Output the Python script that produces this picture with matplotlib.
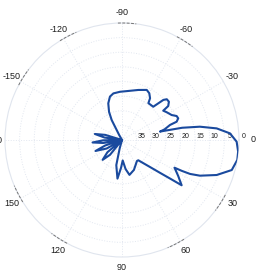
import numpy as np
import matplotlib
matplotlib.use("Agg")
import matplotlib.pyplot as plt

# antenna pattern, angle in degrees (clockwise from east), gain in dB (0 = max)
angles_deg = [-176, -172, -167.5, -163, -158, -122, -119.5, -118, -117.3, -114.7,
              -110.5, -105.5, -100.5, -92.4, -82.7, -71.9, -63.7, -59.7, -56.1, -54.4,
              -46.8, -44.1, -42.3, -39.2, -36.3, -35.4, -31.8, -26.7, -23.7, -21.1,
              -18.5, -17.4, -14, -12.5, -11.5, -9.7, -7.0, -3.5, 0.85, 5.7,
              9.8, 15.3, 20.3, 24.6, 26.5, 27.3, 27.8, 32.6, 37.2, 38.6,
              40.8, 44.3, 51.2, 54.5, 60, 68.2, 77.9, 83, 88, 92,
              96.7, 102.8, 105.5, 108, 122, 129, 134.3, 140, 146, 151,
              157.5, 162, 166.5, 171, 175.2, 179]
gain_db = [-40, -34, -30.5, -34, -40, -40, -38, -36, -32.3, -29.4,
           -26.6, -24.6, -23.8, -23.5, -23.1, -22.0, -20.9, -21.5, -22.8, -24.5,
           -24.4, -20.3, -19.3, -19.3, -20.4, -22.7, -22.0, -21.0, -19.6, -19.4,
           -20.3, -22.8, -25, -26.7, -19, -13.0, -7.4, -3.0, -0.8, -0.1,
           0.0, -1.1, -5.5, -10.7, -14, -17, -19.7, -17.2, -14.4, -18.6,
           -22.8, -27.0, -31.1, -31.2, -30.5, -29, -27.8, -30, -33, -30.5,
           -26.7, -31.2, -37, -40, -40, -33.5, -30.5, -33.5, -40, -34,
           -30.2, -34, -40, -33.5, -29.9, -33.5]

theta_ticks = [0, 30, 60, 90, 120, 150, 180, 210, 240, 270, 300, 330]
theta_labels = ['0', '30', '60', '90', '120', '150', '180',
                '-150', '-120', '-90', '-60', '-30']
r_ticks = [-35, -30, -25, -20, -15, -10, -5, 0]
r_labels = ['35', '30', '25', '20', '15', '10', '5', '0']

plt.rcParams['font.family'] = ['Liberation Sans', 'DejaVu Sans']

fig = plt.figure(figsize=(2.6, 2.74), dpi=100)
ax = fig.add_axes([5 / 260, 17 / 274, 234 / 260, 234 / 274], projection='polar')
ax.set_theta_zero_location('E')
ax.set_theta_direction(-1)
ax.set_ylim(-40, 0)

grid_col = '#e2e7f0'
ax.set_thetagrids(theta_ticks, [''] * len(theta_ticks))
ax.set_rgrids(r_ticks[:-1], [''] * (len(r_ticks) - 1))
ax.grid(True, color=grid_col, linestyle=':', linewidth=0.7)
ax.spines['polar'].set_color('#e0e5ee')
ax.spines['polar'].set_linewidth(0.8)

# darker bits of the outer ring next to the angle labels
for t in [30, 60, 120, 150, 210, 240, 270, 300]:
    arc = np.radians(np.linspace(t - 2, t + 7, 20))
    ax.plot(arc, np.zeros_like(arc), color='#777777', lw=0.7, ls=(0, (3, 1.5)),
            clip_on=False, zorder=3)

# pattern
th = np.radians(angles_deg + angles_deg[:1])
g = np.array(gain_db + gain_db[:1])
ax.plot(th, g, color='#1a4a9e', lw=1.5, solid_joinstyle='round', zorder=4)

# angle labels
for t, lab in zip(theta_ticks, theta_labels):
    rr = 3.6
    if t == 0:
        rr = 4.9
    ax.text(np.radians(t), rr, lab, ha='center', va='center', fontsize=6.5,
            color='#1e1e1e', clip_on=False)

# radial labels (inverted dB scale)
for rv, lab in zip(r_ticks, r_labels):
    ax.annotate(lab, xy=(0, rv), xytext=(4.8, 4), textcoords='offset pixels',
                ha='center', va='center', fontsize=5, color='#1e1e1e',
                annotation_clip=False)

fig.savefig('out.png', dpi=100, facecolor='white')
